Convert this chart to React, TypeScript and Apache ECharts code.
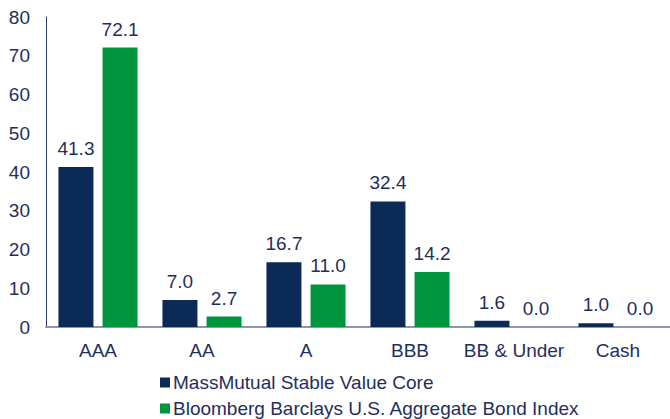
import React, { useEffect, useRef } from "react";
import * as echarts from "echarts";

const categories = ["AAA", "AA", "A", "BBB", "BB & Under", "Cash"];
const massMutual = [41.3, 7.0, 16.7, 32.4, 1.6, 1.0];
const bloomberg = [72.1, 2.7, 11.0, 14.2, 0.0, 0.0];
const seriesNames = ["MassMutual Stable Value Core", "Bloomberg Barclays U.S. Aggregate Bond Index"];

const TEXT = "#1f2f5c";
const NAVY = "#0b2a56";
const GREEN = "#00963f";
const FONT = "Liberation Sans, Arial, sans-serif";
const FS = 19;

export default function App() {
  const ref = useRef<HTMLDivElement>(null);
  useEffect(() => {
    document.body.style.margin = "0";
    if (!ref.current) return;
    const chart = echarts.init(ref.current, undefined, { renderer: "svg" });
    const label = {
      show: true,
      position: "top",
      distance: 9,
      color: TEXT,
      fontSize: FS,
      fontFamily: FONT,
      formatter: (p: any) => Number(p.value).toFixed(1),
    };
    const legendBase = {
      orient: "horizontal",
      left: 160,
      itemWidth: 10,
      itemHeight: 10,
      icon: "rect",
      padding: 0,
      textStyle: { color: TEXT, fontSize: FS, fontFamily: FONT, lineHeight: 18, padding: [0, 0, 0, -2] },
    };
    chart.setOption({
      animation: false,
      textStyle: { fontFamily: FONT },
      grid: { left: 46, top: 17, width: 630, height: 310 },
      legend: [
        { ...legendBase, top: 373, data: [seriesNames[0]] },
        { ...legendBase, top: 399, data: [seriesNames[1]] },
      ],
      xAxis: {
        type: "category",
        data: categories,
        axisLine: { show: true, lineStyle: { color: "#8c97ad", width: 2 } },
        axisTick: { show: false },
        axisLabel: { color: TEXT, fontSize: FS, fontFamily: FONT, margin: 14, interval: 0 },
      },
      yAxis: {
        type: "value",
        min: 0,
        max: 80,
        interval: 10,
        splitLine: { show: false },
        axisLine: { show: true, lineStyle: { color: "#2a3a66", width: 1 } },
        axisTick: { show: false },
        axisLabel: { color: TEXT, fontSize: FS, fontFamily: FONT, margin: 16 },
      },
      series: [
        {
          name: seriesNames[0],
          type: "bar",
          data: massMutual,
          barWidth: 35,
          barGap: "26%",
          itemStyle: { color: NAVY },
          label,
        },
        {
          name: seriesNames[1],
          type: "bar",
          data: bloomberg,
          barWidth: 35,
          itemStyle: { color: GREEN },
          label,
        },
      ],
    });
    return () => chart.dispose();
  }, []);
  return <div ref={ref} style={{ width: 670, height: 419 }} />;
}
